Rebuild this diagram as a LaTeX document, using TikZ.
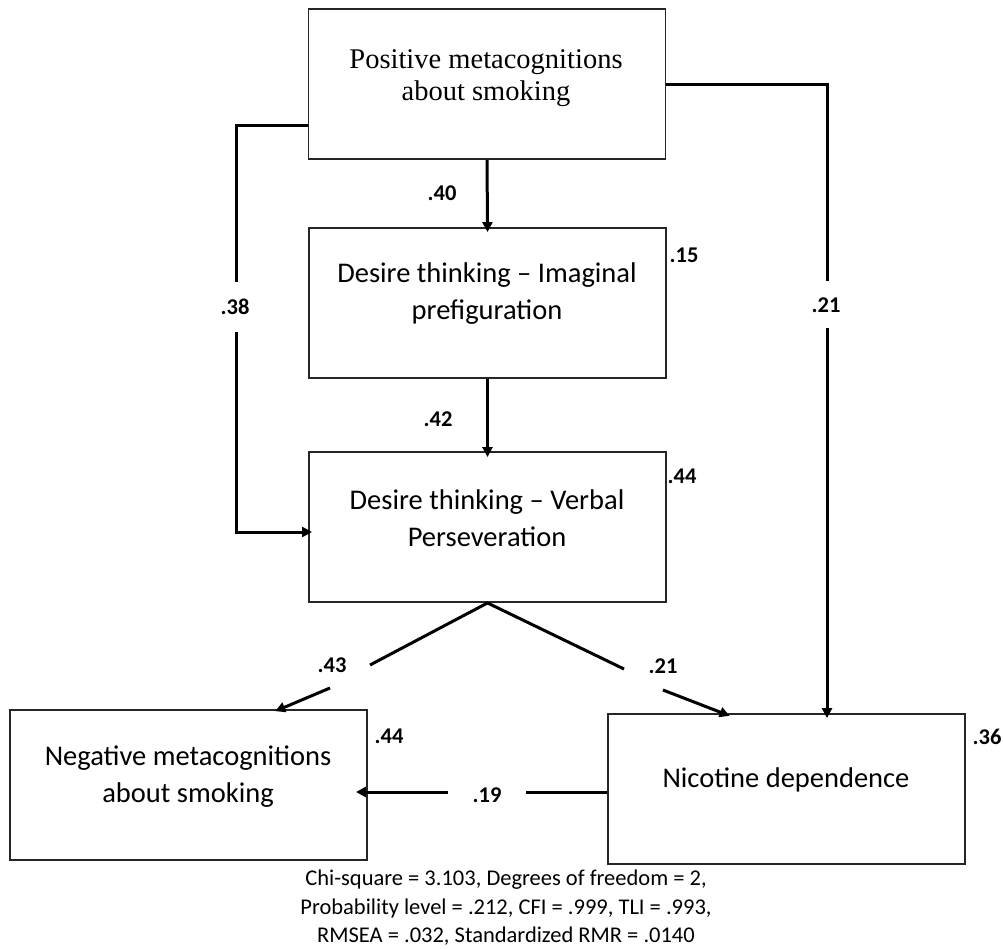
\documentclass[tikz,border=0pt]{standalone}
\usepackage{fontspec}
\setmainfont{Carlito}
\newfontfamily\timesfont{Liberation Serif}
\usetikzlibrary{arrows.meta}
\begin{document}
\begin{tikzpicture}[x=1pt,y=-1pt,
  box/.style={draw=black!85,line width=1.9pt,minimum width=357pt,minimum height=150pt,inner sep=0pt},
  boxtext/.style={align=center,font=\fontsize{28.5}{37}\selectfont,inner sep=0pt},
  conn/.style={line width=3pt,black},
  arr/.style={conn,-{Triangle[length=10pt,width=10pt]}},
  lab/.style={font=\fontsize{22.5}{24}\selectfont\bfseries,inner sep=0pt},
  stats/.style={align=center,font=\fontsize{22.5}{28.5}\selectfont,inner sep=0pt}]
\useasboundingbox (0,0) rectangle (1003,949);
\fill[white] (0,0) rectangle (1003,949);
% boxes
\node[box] (b1) at (487,84) {};
\node[box] (b2) at (487.5,303) {};
\node[box] (b3) at (487.5,527) {};
\node[box] (neg) at (188.5,785) {};
\node[box] (nic) at (786.5,789) {};
% box texts
\node[boxtext,font=\timesfont\fontsize{28.5}{32}\selectfont] (t1) at (486,78) {Positive metacognitions\\about smoking};
\node[boxtext] (t2) at (487,294) {Desire thinking -- Imaginal\\prefiguration};
\node[boxtext] (t3) at (487,518) {Desire thinking -- Verbal\\Perseveration};
\node[boxtext] (t4) at (188,777) {Negative metacognitions\\about smoking};
\node[boxtext] (t5) at (786,780) {Nicotine dependence};
% coordinates
\coordinate (cL1) at (236,126);
\coordinate (cL2) at (236,532);
\coordinate (cR) at (827,85);
\coordinate (gA1) at (370,665);
\coordinate (gA2) at (330,688);
\coordinate (eA) at (278,710);
\coordinate (gB1) at (624,669);
\coordinate (gB2) at (663,690);
\coordinate (eB) at (725,714);
\coordinate (h1) at (526,792);
\coordinate (h2) at (448,792);
% connectors
\draw[arr,shorten >=-5pt] (b1.south) -- (b2.north);
\draw[arr,shorten >=-6pt] (b2.south) -- (b3.north);
\draw[conn] (b1.west |- cL1) -- (cL1) -- (236,282);
\draw[arr,shorten >=-4pt] (236,332) -- (cL2) -- (b3.west |- cL2);
\draw[conn] (b1.east |- cR) -- (cR) -- (827,281);
\draw[arr,shorten >=-5pt] (827,328) -- (nic.north -| cR);
\draw[conn] (b3.south) -- (gA1);
\draw[arr,shorten >=-3pt] (gA2) -- (eA);
\draw[conn] (b3.south) -- (gB1);
\draw[arr,shorten >=-5pt] (gB2) -- (eB);
\draw[conn] (nic.west |- h1) -- (h1);
\draw[arr,shorten >=-12pt] (h2) -- (neg.east |- h2);
% labels
\node[lab] (l40) at (442,193) {.40};
\node[lab] (l15) at (684,255) {.15};
\node[lab] (l38) at (235,307) {.38};
\node[lab] (l21a) at (826,305) {.21};
\node[lab] (l42) at (438,419) {.42};
\node[lab] (l44a) at (682,476) {.44};
\node[lab] (l43) at (332,665) {.43};
\node[lab] (l21b) at (663,666) {.21};
\node[lab] (l44b) at (389,736) {.44};
\node[lab] (l36) at (987,737) {.36};
\node[lab] (l19) at (487,795) {.19};
% fit statistics
\node[stats] (st) at (506,908) {Chi-square = 3.103, Degrees of freedom = 2,\\Probability level = .212, CFI = .999, TLI = .993,\\RMSEA = .032, Standardized RMR = .0140};
\end{tikzpicture}
\end{document}
